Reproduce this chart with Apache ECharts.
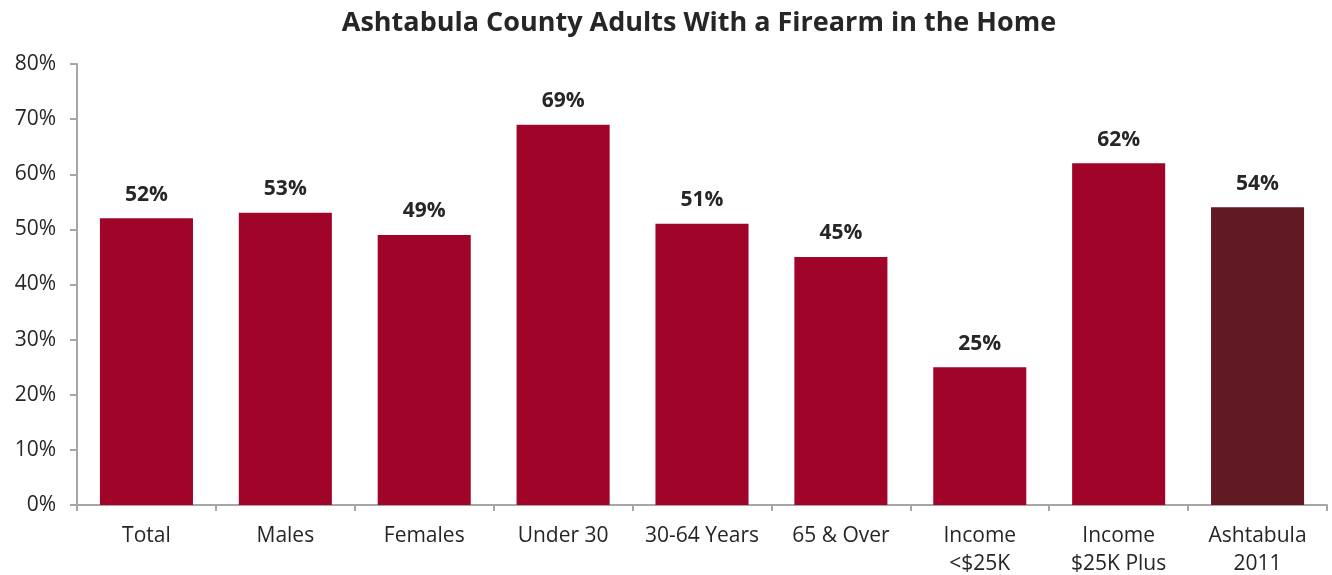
<!DOCTYPE html>
<html>
<head>
<meta charset="utf-8">
<script src="https://cdn.jsdelivr.net/npm/echarts@6/dist/echarts.min.js"></script>
<style>
  html, body { margin: 0; padding: 0; background: #fff; }
  #chart { width: 1332px; height: 575px; }
</style>
</head>
<body>
<div id="chart"></div>
<script>
// Share of adults reporting a firearm in the home, by group
const categories = ['Total', 'Males', 'Females', 'Under 30', '30-64 Years', '65 & Over', 'Income\n<$25K', 'Income\n$25K Plus', 'Ashtabula\n2011'];
const values = [52, 53, 49, 69, 51, 45, 25, 62, 54];
const barColors = ['#A00428', '#A00428', '#A00428', '#A00428', '#A00428', '#A00428', '#A00428', '#A00428', '#621A22'];

const FONT = '"Open Sans", "Noto Sans", sans-serif';
const chart = echarts.init(document.getElementById('chart'));

chart.setOption({
  animation: false,
  title: {
    text: 'Ashtabula County Adults With a Firearm in the Home',
    left: 694,
    textAlign: 'center',
    top: 5,
    textStyle: { fontFamily: FONT, fontSize: 27, fontWeight: 'bold', color: '#262626' }
  },
  grid: { left: 77, right: 5, top: 64, bottom: 70, containLabel: false, outerBoundsMode: 'none' },
  xAxis: {
    type: 'category',
    data: categories,
    axisLine: { lineStyle: { color: '#A6A6A6', width: 2 } },
    axisTick: { show: true, length: 6, alignWithLabel: false, lineStyle: { color: '#A6A6A6', width: 2 } },
    axisLabel: { fontFamily: FONT, fontSize: 21, color: '#262626', margin: 17, lineHeight: 28, interval: 0 }
  },
  yAxis: {
    type: 'value',
    min: 0,
    max: 80,
    interval: 10,
    axisLine: { show: true, lineStyle: { color: '#A6A6A6', width: 2 } },
    axisTick: { show: true, length: 7, lineStyle: { color: '#A6A6A6', width: 2 } },
    splitLine: { show: false },
    axisLabel: { fontFamily: FONT, fontSize: 21, color: '#262626', margin: 21, formatter: '{value}%' }
  },
  series: [{
    type: 'bar',
    barWidth: '67%',
    data: values.map((v, i) => ({ value: v, itemStyle: { color: barColors[i] } })),
    label: {
      show: true,
      position: 'top',
      distance: 13,
      formatter: '{c}%',
      fontFamily: FONT,
      fontSize: 21,
      fontWeight: 'bold',
      color: '#262626'
    }
  }]
});
</script>
</body>
</html>
